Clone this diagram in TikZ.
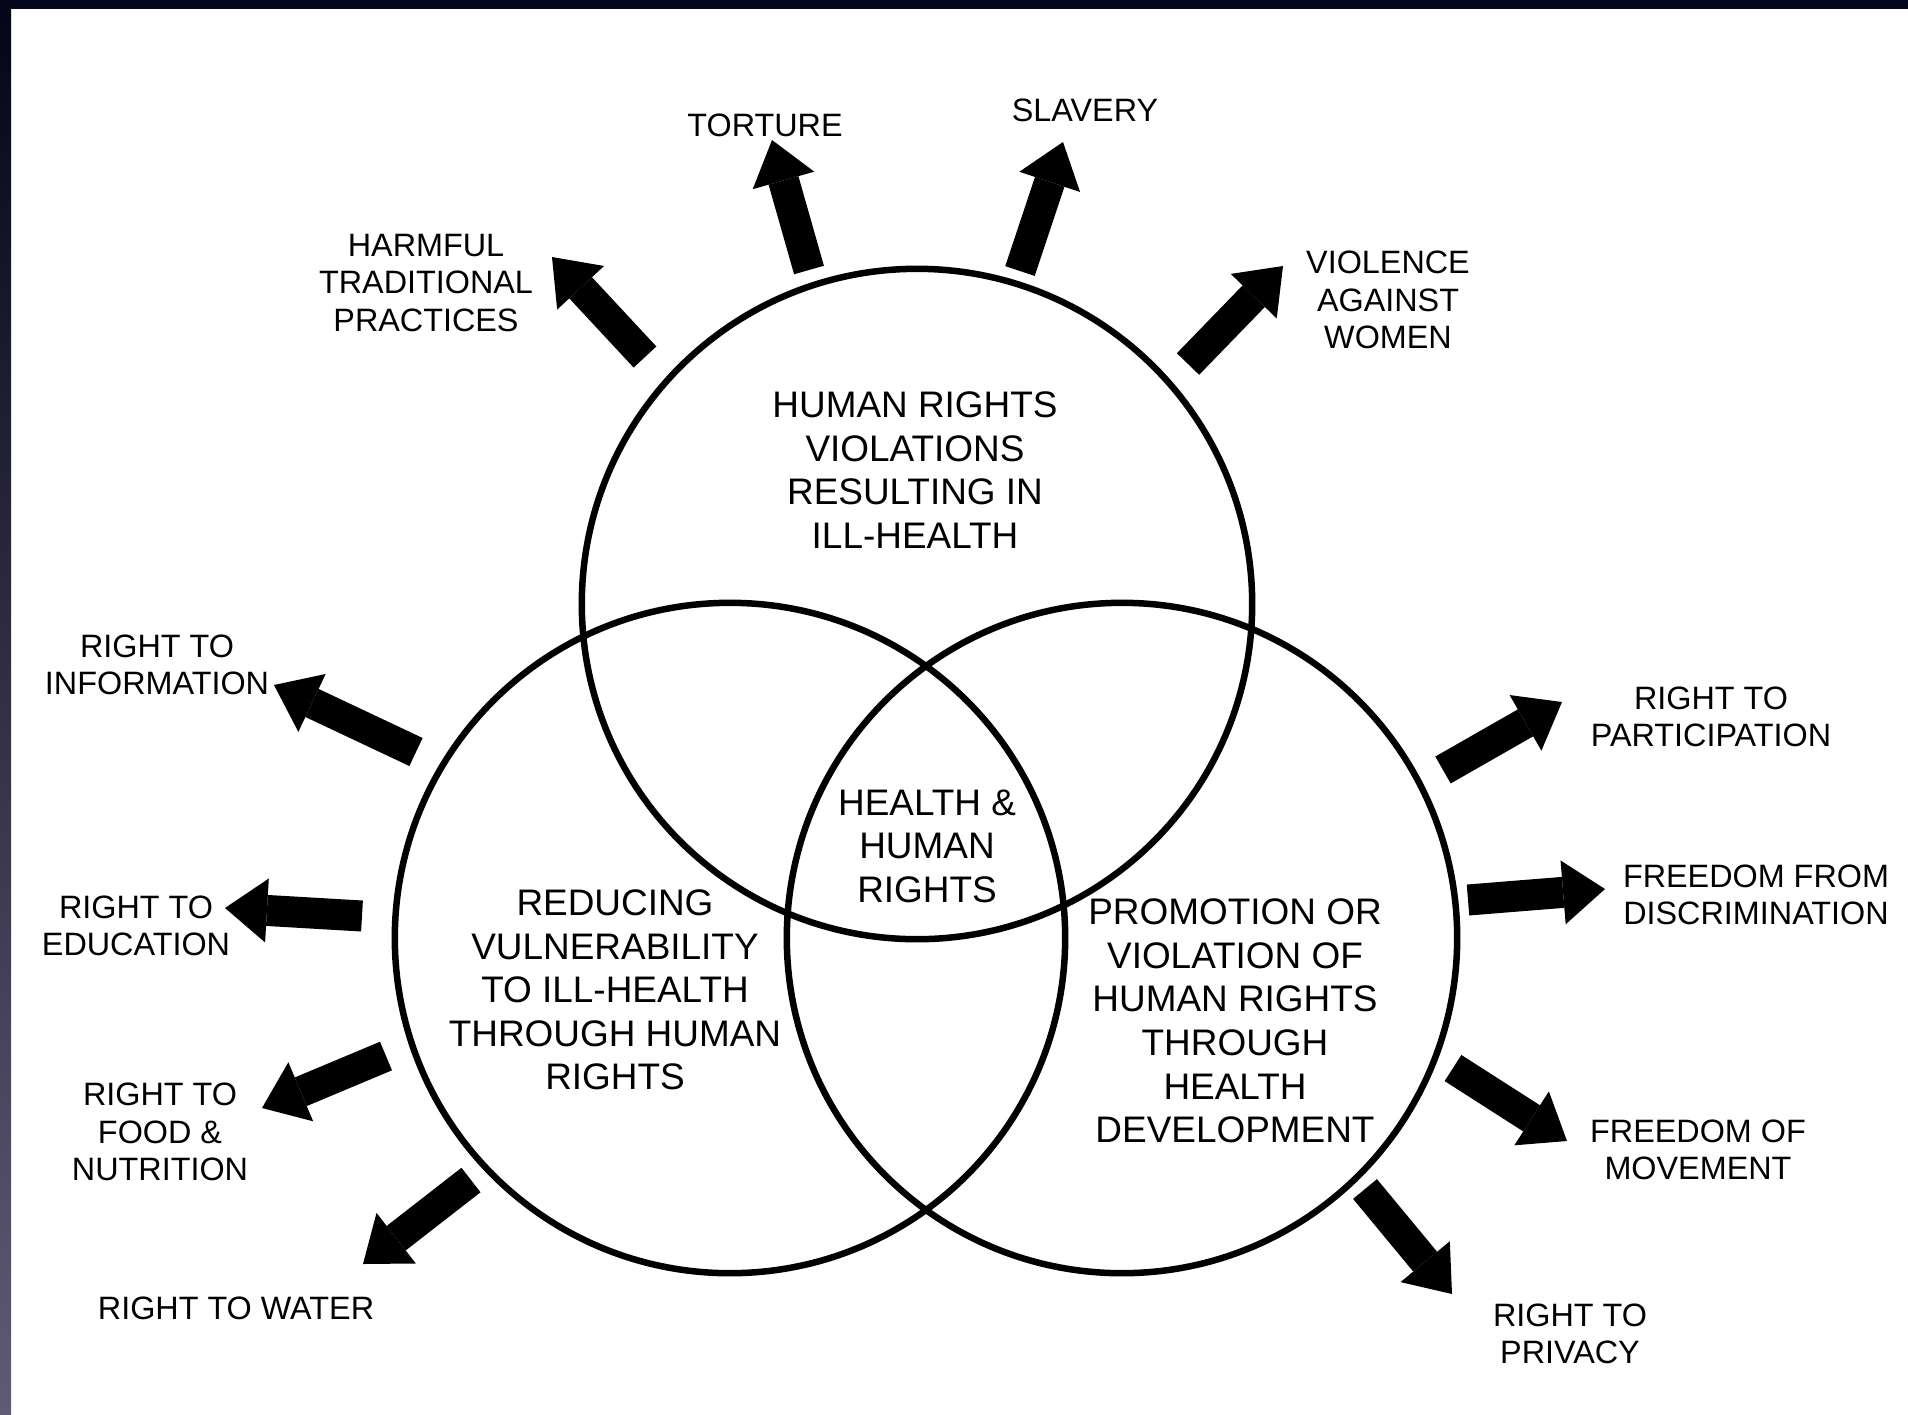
\documentclass[tikz,border=0pt]{standalone}
\usepackage{fontspec}
\setmainfont{Liberation Sans}
\usetikzlibrary{arrows.meta}
\definecolor{slidetop}{HTML}{04041A}
\definecolor{slidefoot}{HTML}{5E5C74}

\begin{document}
\begin{tikzpicture}
      [ x=0.01cm, y=-0.01cm,
        ring/.style={circle, draw, line width=0.065cm, minimum size=6.7cm, inner sep=0pt},
        big/.style={align=center, inner sep=0pt, font=\fontsize{10.5}{12.4}\selectfont},
        small/.style={align=center, inner sep=0pt, font=\fontsize{9.2}{10.7}\selectfont},
        fat/.style={line width=0.31cm, -{Triangle[length=0.42cm, width=0.64cm, line width=0pt]}}
      ]
      \useasboundingbox (0,0) rectangle (1908,1414);
      \fill[slidetop] (0,0) rectangle (1908,9);
      \shade[top color=slidetop, bottom color=slidefoot] (0,0) rectangle (11,1414);

      % the three circles
      \node[ring] (viol) at (917,604)  {};
      \node[ring] (vuln) at (730,938)  {};
      \node[ring] (prom) at (1122,938) {};

      \node[big] (violtxt) at (915,470)  {HUMAN RIGHTS\\VIOLATIONS\\RESULTING IN\\ILL-HEALTH};
      \node[big] (core)    at (927,846)  {HEALTH \&\\HUMAN\\RIGHTS};
      \node[big] (vulntxt) at (615,990)  {REDUCING\\VULNERABILITY\\TO ILL-HEALTH\\THROUGH HUMAN\\RIGHTS};
      \node[big] (promtxt) at (1235,1021) {PROMOTION OR\\VIOLATION OF\\HUMAN RIGHTS\\THROUGH\\HEALTH\\DEVELOPMENT};

      % labels round the outside
      \node[small] (harm)  at (426,283)  {HARMFUL\\TRADITIONAL\\PRACTICES};
      \node[small] (tort)  at (765,125)  {TORTURE};
      \node[small] (slav)  at (1085,110) {SLAVERY};
      \node[small] (vaw)   at (1388,300) {VIOLENCE\\AGAINST\\WOMEN};
      \node[small] (info)  at (157,665)  {RIGHT TO\\INFORMATION};
      \node[small] (edu)   at (136,926)  {RIGHT TO\\EDUCATION};
      \node[small] (food)  at (160,1132) {RIGHT TO\\FOOD \&\\NUTRITION};
      \node[small] (water) at (236,1308) {RIGHT TO WATER};
      \node[small] (part)  at (1711,717) {RIGHT TO\\PARTICIPATION};
      \node[small] (discr) at (1756,895) {FREEDOM FROM\\DISCRIMINATION};
      \node[small] (move)  at (1698,1150) {FREEDOM OF\\MOVEMENT};
      \node[small] (priv)  at (1570,1334) {RIGHT TO\\PRIVACY};

      % arrow ends
      \coordinate (harm-s)  at (645,357);   \coordinate (harm-e)  at (552,257);
      \coordinate (tort-s)  at (809,270);   \coordinate (tort-e)  at (772,140);
      \coordinate (slav-s)  at (1020,271);  \coordinate (slav-e)  at (1063,142);
      \coordinate (vaw-s)   at (1188,364);  \coordinate (vaw-e)   at (1283,266);
      \coordinate (info-s)  at (416,752);   \coordinate (info-e)  at (274,685);
      \coordinate (edu-s)   at (362,916);   \coordinate (edu-e)   at (225,908);
      \coordinate (food-s)  at (386,1056);  \coordinate (food-e)  at (262,1108);
      \coordinate (water-s) at (471,1180);  \coordinate (water-e) at (363,1264);
      \coordinate (part-s)  at (1443,770);  \coordinate (part-e)  at (1562,702);
      \coordinate (discr-s) at (1468,900);  \coordinate (discr-e) at (1605,889);
      \coordinate (move-s)  at (1453,1068); \coordinate (move-e)  at (1567,1141);
      \coordinate (priv-s)  at (1365,1189); \coordinate (priv-e)  at (1452,1294);

      \path[fat] (harm-s)  edge (harm-e)
                 (tort-s)  edge (tort-e)
                 (slav-s)  edge (slav-e)
                 (vaw-s)   edge (vaw-e)
                 (info-s)  edge (info-e)
                 (edu-s)   edge (edu-e)
                 (food-s)  edge (food-e)
                 (water-s) edge (water-e)
                 (part-s)  edge (part-e)
                 (discr-s) edge (discr-e)
                 (move-s)  edge (move-e)
                 (priv-s)  edge (priv-e);
\end{tikzpicture}
\end{document}
